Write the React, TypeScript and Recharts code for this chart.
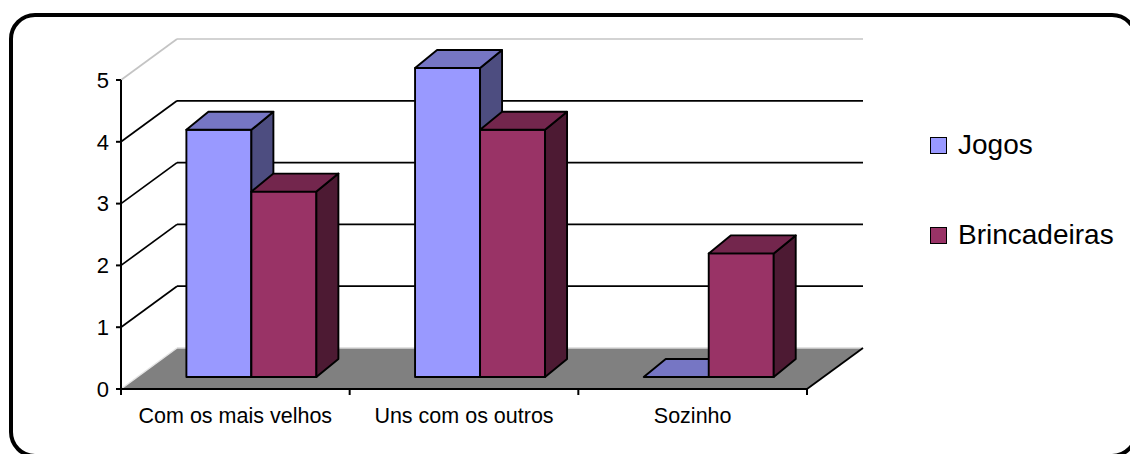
import React from 'react';
import { BarChart, Bar, XAxis, YAxis, CartesianGrid, Legend } from 'recharts';

const categories = ['Com os mais velhos', 'Uns com os outros', 'Sozinho'];
const seriesNames = ['Jogos', 'Brincadeiras'];
const jogos = [4, 5, 0];
const brincadeiras = [3, 4, 2];
const yTicks = [0, 1, 2, 3, 4, 5];

const data = categories.map((name, i) => ({
  name,
  jogos: jogos[i],
  brincadeiras: brincadeiras[i],
}));

const FONT = '"Liberation Sans", Arial, sans-serif';

// depth of the walls and of the boxes
const WALL_DX = 56;
const WALL_DY = -41;
const BAR_DX = 16;
const BAR_DY = -12;
const BOX_DX = 22;
const BOX_DY = -18;

const colors = {
  jogos: { front: '#9999FF', top: '#7676C4', side: '#4D4D80' },
  brincadeiras: { front: '#993366', top: '#73264D', side: '#4D1A33' },
};

function boxShape(c: { front: string; top: string; side: string }) {
  return (props: any) => {
    const { x, y, width } = props;
    const h = Math.max(props.height || 0, 0);
    const fx = x + BAR_DX;
    const fy = y + BAR_DY;
    const w = width;
    const top = `${fx},${fy} ${fx + w},${fy} ${fx + w + BOX_DX},${fy + BOX_DY} ${fx + BOX_DX},${fy + BOX_DY}`;
    const side = `${fx + w},${fy} ${fx + w + BOX_DX},${fy + BOX_DY} ${fx + w + BOX_DX},${fy + h + BOX_DY} ${fx + w},${fy + h}`;
    return (
      <g stroke="#000" strokeWidth={1.9} strokeLinejoin="round">
        {h > 0 && <rect x={fx} y={fy} width={w} height={h} fill={c.front} />}
        {h > 0 && <polygon points={side} fill={c.side} />}
        <polygon points={top} fill={c.top} />
      </g>
    );
  };
}

const gridLine = (props: any) => {
  const { x1, x2, y1, index } = props;
  const v = yTicks[index];
  const key = `g-${index}`;
  if (v === 0) {
    const n = categories.length;
    return (
      <g key={key}>
        <polygon
          points={`${x1},${y1} ${x2},${y1} ${x2 + WALL_DX},${y1 + WALL_DY} ${x1 + WALL_DX},${y1 + WALL_DY}`}
          fill="#808080"
          stroke="none"
        />
        <line x1={x1} y1={y1} x2={x1 + WALL_DX} y2={y1 + WALL_DY} stroke="#e4e4e4" strokeWidth={1.5} />
        <line x1={x1 + WALL_DX} y1={y1 + WALL_DY} x2={x2 + WALL_DX} y2={y1 + WALL_DY} stroke="#d8d8d8" strokeWidth={1.5} />
        <line x1={x2} y1={y1} x2={x2 + WALL_DX} y2={y1 + WALL_DY} stroke="#000" strokeWidth={1.8} />
        {Array.from({ length: n + 1 }, (_, i) => {
          const tx = x1 + (i * (x2 - x1)) / n;
          return <line key={i} x1={tx} y1={y1} x2={tx} y2={y1 + 6} stroke="#000" strokeWidth={2} />;
        })}
      </g>
    );
  }
  const stroke = v === yTicks[yTicks.length - 1] ? '#c4c4c4' : '#000';
  return (
    <g key={key}>
      <line x1={x1} y1={y1} x2={x1 + WALL_DX} y2={y1 + WALL_DY} stroke={stroke} strokeWidth={1.7} />
      <line x1={x1 + WALL_DX} y1={y1 + WALL_DY} x2={x2 + WALL_DX} y2={y1 + WALL_DY} stroke={stroke} strokeWidth={1.7} />
    </g>
  );
};

const renderLegend = (props: any) => {
  const items = [...(props.payload || [])].sort(
    (a: any, b: any) => seriesNames.indexOf(a.value) - seriesNames.indexOf(b.value)
  );
  return (
    <div style={{ fontFamily: FONT, fontSize: 28, color: '#000' }}>
      {items.map((it: any, i: number) => (
        <div
          key={i}
          style={{ display: 'flex', alignItems: 'center', height: 40, marginBottom: 50, whiteSpace: 'nowrap' }}
        >
          <span
            style={{
              display: 'inline-block',
              width: 15,
              height: 15,
              background: it.color,
              border: '1px solid #000',
              marginRight: 11,
            }}
          />
          <span>{it.value}</span>
        </div>
      ))}
    </div>
  );
};

export default function App() {
  return (
    <div
      style={{
        position: 'absolute',
        left: 0,
        top: 0,
        width: 1130,
        height: 454,
        overflow: 'hidden',
        background: '#fff',
      }}
    >
      <div
        style={{
          position: 'absolute',
          left: 9,
          top: 13,
          width: 1129,
          height: 445,
          boxSizing: 'border-box',
          border: '4px solid #000',
          borderRadius: 26,
        }}
      />
      <div style={{ position: 'absolute', left: 0, top: 0 }}>
        <BarChart
          width={1130}
          height={454}
          data={data}
          margin={{ top: 80, right: 323, bottom: 35, left: 61 }}
          barCategoryGap="21.6%"
          barGap={0}
        >
          <CartesianGrid vertical={false} horizontal={gridLine} />
          <XAxis
            dataKey="name"
            height={30}
            interval={0}
            axisLine={{ stroke: '#000', strokeWidth: 2 }}
            tickLine={false}
            tickSize={0}
            tickMargin={19}
            tick={{ fill: '#000', fontSize: 21.5, fontFamily: FONT }}
          />
          <YAxis
            width={60}
            type="number"
            domain={[0, 5]}
            ticks={yTicks}
            axisLine={{ stroke: '#000', strokeWidth: 2 }}
            tickLine={{ stroke: '#000', strokeWidth: 2 }}
            tickSize={5}
            tickMargin={7}
            tick={{ fill: '#000', fontSize: 22, fontFamily: FONT }}
          />
          <Legend
            layout="vertical"
            align="center"
            verticalAlign="middle"
            wrapperStyle={{ left: 930, top: 125, width: 200, height: 'auto' }}
            content={renderLegend}
          />
          <Bar
            dataKey="jogos"
            name="Jogos"
            fill={colors.jogos.front}
            shape={boxShape(colors.jogos)}
            isAnimationActive={false}
          />
          <Bar
            dataKey="brincadeiras"
            name="Brincadeiras"
            fill={colors.brincadeiras.front}
            shape={boxShape(colors.brincadeiras)}
            isAnimationActive={false}
          />
        </BarChart>
      </div>
    </div>
  );
}
